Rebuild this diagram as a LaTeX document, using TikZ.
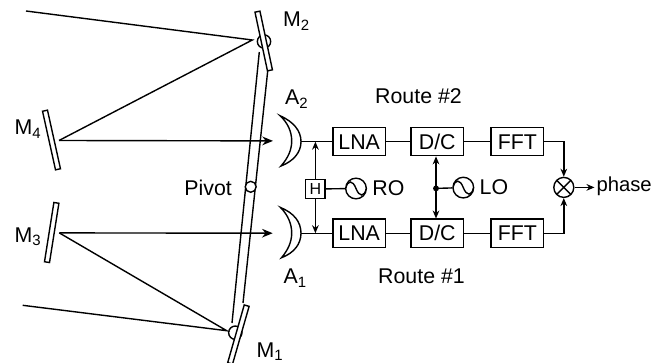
\documentclass[tikz,border=0pt]{standalone}
\usepackage{fontspec}
\setmainfont{Liberation Sans}
\usetikzlibrary{positioning,arrows.meta,calc}
\begin{document}
\begin{tikzpicture}[
   x=0.75pt, y=-0.75pt,
   line width=1.05pt,
   node distance=18pt and 18pt,
   block/.style={draw, minimum height=21pt, minimum width=39.5pt, inner sep=0pt,
                 font=\fontsize{16}{18}\selectfont},
   label/.style={inner sep=0pt, font=\fontsize{16}{18}\selectfont},
   mirror/.style={draw, fill=white, minimum width=3.8pt, minimum height=45pt, inner sep=0pt},
   hinge/.style={draw, circle, minimum size=10pt, inner sep=0pt},
   osc/.style={draw, circle, minimum size=15.5pt, inner sep=0pt,
               path picture={\draw ($(path picture bounding box.center)+(-7.75pt,0)$)
                 .. controls +(1.5pt,6.5pt) and +(-2.5pt,6.5pt) .. (path picture bounding box.center)
                 .. controls +(2.5pt,-6.5pt) and +(-1.5pt,-6.5pt) .. ($(path picture bounding box.center)+(7.75pt,0)$);}},
   mixer/.style={draw, circle, minimum size=15pt, inner sep=0pt,
               path picture={\draw (path picture bounding box.north west) -- (path picture bounding box.south east)
                 (path picture bounding box.north east) -- (path picture bounding box.south west);}},
   beam/.style={-{Stealth[length=8pt,width=6.5pt]}},
   >={Stealth[length=6pt,width=5pt]}]
  \useasboundingbox (0,0) rectangle (663,363);
  % Receiver chain
  \node[block] (lnaB) at (359.2,141.7) {LNA};
  \node[block, right=of lnaB] (dcB) {D/C};
  \node[block, right=19.5pt of dcB] (fftB) {FFT};
  \node[block] (lnaA) at (359.2,233.2) {LNA};
  \node[block, right=of lnaA] (dcA) {D/C};
  \node[block, right=19.5pt of dcA] (fftA) {FFT};
  \node[mixer] (mix) at (563.8,187.4) {};
  \node[label, right=16pt of mix, yshift=1pt, font=\fontsize{15.2}{18}\selectfont] (phase) {phase};
  \draw (lnaB) -- (dcB);
  \draw (dcB) -- (fftB);
  \draw (lnaA) -- (dcA);
  \draw (dcA) -- (fftA);
  \draw[->] (fftB.east) -| (mix.north);
  \draw[->] (fftA.east) -| (mix.south);
  \draw[->, shorten >=1pt] (mix.east) -- (mix.east -| phase.west);
  % Local oscillators
  \node[draw, minimum size=14.5pt, inner sep=0pt, font=\fontsize{12}{12}\selectfont] (hyb) at (315.4,189) {H};
  \node[osc] (ro) at (356,188.5) {};
  \node[label, right=3.5pt of ro] (rolabel) {RO};
  \node[osc] (lo) at (463.3,187.6) {};
  \node[label, right=3.5pt of lo] (lolabel) {LO};
  \coordinate (split) at (436,188.4);
  \fill (split) circle (2.2pt);
  \draw (hyb) -- (ro);
  \draw (split) -- (lo);
  \draw[->] (split) -- (split |- dcB.south);
  \draw[->] (split) -- (split |- dcA.north);
  % Antennas
  \coordinate (hornB) at (301,141.7);
  \coordinate (hornA) at (301,233.2);
  \draw (280,115.7) .. controls (294,122) and (301,131) .. (hornB)
        .. controls (301,152) and (294,161) .. (281,166)
        .. controls (288,158) and (291.7,150) .. (291.7,141)
        .. controls (291.7,132) and (288,123) .. cycle;
  \draw (280.5,207.5) .. controls (294,213) and (301,222) .. (hornA)
        .. controls (301,244) and (294,253) .. (281.5,257.7)
        .. controls (288,250) and (291.7,242) .. (291.7,233)
        .. controls (291.7,224) and (288,215) .. cycle;
  \draw (hornB) -- (lnaB);
  \draw (hornA) -- (lnaA);
  \draw[->] (hyb.north) -- (hyb.north |- lnaB);
  \draw[->] (hyb.south) -- (hyb.south |- lnaA);
  % Rotating arm
  \draw (259.3,52) -- (232,323);
  \draw (267.7,71) -- (243,303);
  \node[hinge] (hingeB) at (264,41.5) {};
  \node[hinge] (hingeA) at (235.3,332.7) {};
  \node[mirror, rotate=12] (mB) at (263.7,41) {};
  \node[mirror, rotate=-16] (mA) at (238.4,334.5) {};
  \node[mirror, rotate=12.5] (mD) at (51.5,140) {};
  \node[mirror, rotate=-9] (mC) at (51.7,232.5) {};
  \node[draw, fill=white, circle, minimum size=8.2pt, inner sep=0pt] (pivot) at (250.7,186.8) {};
  % Beams
  \coordinate (farB) at (26,11);
  \coordinate (farA) at (22.7,305.3);
  \coordinate (hitB) at (252.3,40);
  \coordinate (hitA) at (226.7,330.7);
  \coordinate (hitD) at (59,140.5);
  \coordinate (hitC) at (59.3,232.9);
  \coordinate (tipB) at (273,140.9);
  \coordinate (tipA) at (272.7,233.2);
  \draw (farB) -- (hitB) -- (hitD);
  \draw[beam] (hitD) -- (tipB);
  \draw (farA) -- (hitA) -- (hitC);
  \draw[beam] (hitC) -- (tipA);
  % Labels
  \node[label, anchor=west] (labMB) at (282.5,21) {M\textsubscript{2}};
  \node[label, anchor=west] (labMA) at (256,351.5) {M\textsubscript{1}};
  \node[label, anchor=west] (labMD) at (14,129) {M\textsubscript{4}};
  \node[label, anchor=west] (labMC) at (14,237) {M\textsubscript{3}};
  \node[label, anchor=west] (labAB) at (284.5,99) {A\textsubscript{2}};
  \node[label, anchor=west] (labAA) at (283,278) {A\textsubscript{1}};
  \node[label, anchor=east] (labpivot) at (232.5,188) {Pivot};
  \node[label, anchor=west] (routeB) at (374.5,96) {Route \#2};
  \node[label, anchor=west] (routeA) at (377.5,276) {Route \#1};
\end{tikzpicture}
\end{document}
